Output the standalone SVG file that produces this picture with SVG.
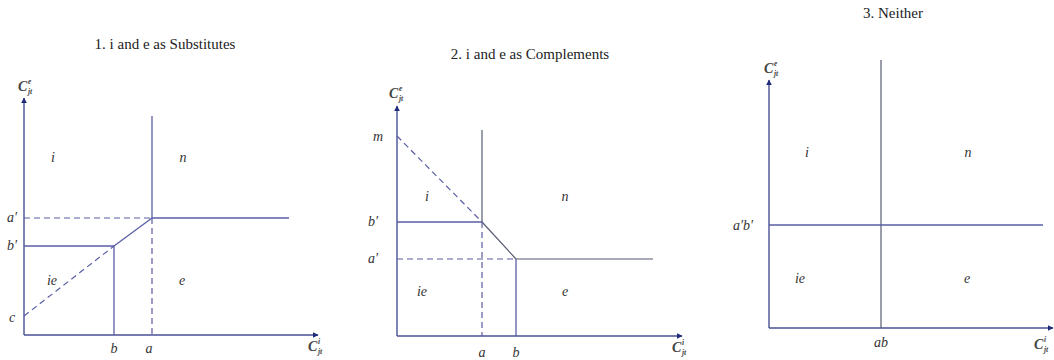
<svg xmlns="http://www.w3.org/2000/svg" width="1054" height="360" viewBox="0 0 1054 360">
<defs>
<marker id="arr" viewBox="0 0 10 10" refX="9" refY="5" markerWidth="6" markerHeight="6" orient="auto" markerUnits="userSpaceOnUse">
<path d="M0,0 L10,5 L0,10 z" fill="#1f2a7a"/>
</marker>
<style>
.title{font-family:"Liberation Serif",serif;font-size:15px;fill:#222;text-anchor:middle}
.lab{font-family:"Liberation Serif",serif;font-style:italic;font-size:14px;fill:#333;text-anchor:middle}
.cl{font-family:"Liberation Serif",serif;font-style:italic;font-weight:bold;font-size:14px;fill:#444}
.sp{font-family:"Liberation Serif",serif;font-style:italic;font-weight:bold;font-size:7.5px;fill:#444}
.ax{stroke:#4a4f96;stroke-width:1.4;fill:none}
.ln{stroke:#5a5ea4;stroke-width:1.3;fill:none}
.dk{stroke:#555a70;stroke-width:1.2;fill:none}
.ds{stroke:#5a5ea4;stroke-width:1.2;fill:none;stroke-dasharray:6,4}
</style>
</defs>

<g id="panel1">
<text class="title" x="165" y="49">1. i and e as Substitutes</text>
<g id="p1-axes">
<line class="ax" x1="24" y1="335" x2="24" y2="98" marker-end="url(#arr)"/>
<line class="ax" x1="24" y1="335" x2="318" y2="335" marker-end="url(#arr)"/>
</g>
<g id="p1-lines">
<line class="ln" x1="152" y1="116" x2="152" y2="218"/>
<line class="ln" x1="152" y1="218" x2="289" y2="218"/>
<line class="ds" x1="24" y1="218" x2="152" y2="218"/>
<line class="ds" x1="152" y1="218" x2="152" y2="335"/>
<line class="ln" x1="24" y1="246" x2="114" y2="246"/>
<line class="ln" x1="114" y1="246" x2="114" y2="335"/>
<line class="ln" x1="114" y1="246" x2="152" y2="218"/>
<line class="ds" x1="24" y1="316" x2="114" y2="246"/>
</g>
<g id="p1-labels">
<text class="cl" x="18" y="91">C</text><text class="sp" x="28" y="84">e</text><text class="sp" x="28" y="94">jt</text>
<text class="cl" x="308" y="351">C</text><text class="sp" x="318" y="344">i</text><text class="sp" x="318" y="354">jt</text>
<text class="lab" x="53" y="162">i</text>
<text class="lab" x="183" y="162">n</text>
<text class="lab" x="52" y="285">ie</text>
<text class="lab" x="182" y="285">e</text>
<text class="lab" x="12" y="222">a′</text>
<text class="lab" x="12" y="250">b′</text>
<text class="lab" x="12" y="322">c</text>
<text class="lab" x="114" y="353">b</text>
<text class="lab" x="149" y="353">a</text>
</g>
</g>

<g id="panel2">
<text class="title" x="530" y="59">2. i and e as Complements</text>
<g id="p2-axes">
<line class="ax" x1="397" y1="336" x2="397" y2="106" marker-end="url(#arr)"/>
<line class="ax" x1="397" y1="336" x2="682" y2="336" marker-end="url(#arr)"/>
</g>
<g id="p2-lines">
<line class="dk" x1="482" y1="130" x2="482" y2="222"/>
<line class="ds" x1="397" y1="136" x2="482" y2="222"/>
<line class="ln" x1="397" y1="222" x2="482" y2="222"/>
<line class="dk" x1="482" y1="222" x2="516" y2="259"/>
<line class="ds" x1="397" y1="259" x2="516" y2="259"/>
<line class="dk" x1="516" y1="259" x2="653" y2="259"/>
<line class="ln" x1="516" y1="259" x2="516" y2="336"/>
<line class="ds" x1="482" y1="222" x2="482" y2="336"/>
</g>
<g id="p2-labels">
<text class="cl" x="389" y="98">C</text><text class="sp" x="399" y="91">e</text><text class="sp" x="399" y="101">jt</text>
<text class="cl" x="672" y="352">C</text><text class="sp" x="682" y="345">i</text><text class="sp" x="682" y="355">jt</text>
<text class="lab" x="378" y="141">m</text>
<text class="lab" x="373" y="226">b′</text>
<text class="lab" x="373" y="263">a′</text>
<text class="lab" x="427" y="201">i</text>
<text class="lab" x="565" y="201">n</text>
<text class="lab" x="422" y="296">ie</text>
<text class="lab" x="565" y="296">e</text>
<text class="lab" x="482" y="357">a</text>
<text class="lab" x="516" y="357">b</text>
</g>
</g>

<g id="panel3">
<text class="title" x="893" y="18">3. Neither</text>
<g id="p3-axes">
<line class="ax" x1="769" y1="328" x2="769" y2="80" marker-end="url(#arr)"/>
<line class="ax" x1="769" y1="328" x2="1053" y2="328" marker-end="url(#arr)"/>
</g>
<g id="p3-lines">
<line class="dk" x1="881" y1="60" x2="881" y2="328"/>
<line class="ln" x1="769" y1="225" x2="1043" y2="225"/>
</g>
<g id="p3-labels">
<text class="cl" x="764" y="73">C</text><text class="sp" x="774" y="66">e</text><text class="sp" x="774" y="76">jt</text>
<text class="cl" x="1034" y="349">C</text><text class="sp" x="1044" y="342">i</text><text class="sp" x="1044" y="352">jt</text>
<text class="lab" x="807" y="157">i</text>
<text class="lab" x="968" y="157">n</text>
<text class="lab" x="800" y="283">ie</text>
<text class="lab" x="967" y="283">e</text>
<text class="lab" x="743" y="230">a′b′</text>
<text class="lab" x="881" y="347">ab</text>
</g>
</g>
</svg>
